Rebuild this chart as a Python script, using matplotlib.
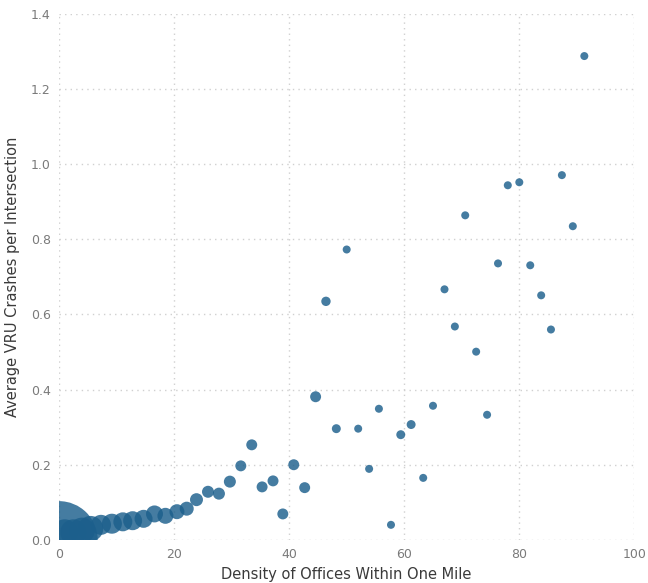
import matplotlib.pyplot as plt
import numpy as np

# density of offices (x), avg VRU crashes per intersection (y), intersections per bin (bubble size)
density = [0.0, 1.0, 2.5, 4.0, 5.5,
           7.3, 9.2, 11.1, 12.8, 14.7, 16.6, 18.5, 20.5, 22.2, 23.9,
           25.9, 27.8, 29.7, 31.6, 33.5, 35.3, 37.2, 38.9, 40.8, 42.7,
           44.6, 46.4, 48.2, 50.0, 52.0, 53.9, 55.6, 57.7, 59.4, 61.2,
           63.3, 65.0, 67.0, 68.8, 70.6, 72.5, 74.4, 76.3, 78.0, 80.0,
           81.9, 83.8, 85.5, 87.4, 89.3, 91.3]
crashes = [0.0, 0.02, 0.02, 0.025, 0.03,
           0.040, 0.043, 0.048, 0.051, 0.056, 0.069, 0.064, 0.075, 0.083, 0.107,
           0.128, 0.123, 0.155, 0.197, 0.253, 0.141, 0.157, 0.069, 0.200, 0.139,
           0.381, 0.635, 0.296, 0.773, 0.296, 0.189, 0.349, 0.040, 0.280, 0.307,
           0.165, 0.357, 0.667, 0.568, 0.864, 0.501, 0.333, 0.736, 0.944, 0.952,
           0.731, 0.651, 0.560, 0.971, 0.835, 1.288]
count = [1500, 170, 170, 165, 160,
         100, 100, 90, 90, 81, 72, 64, 56, 49, 42,
         36, 36, 36, 30, 30, 30, 30, 30, 30, 30,
         30, 22, 20, 16, 16, 16, 16, 16, 20, 20,
         16, 16, 16, 16, 16, 16, 16, 16, 16, 16,
         16, 16, 16, 16, 16, 16]

fig = plt.figure(figsize=(6.48, 5.83), dpi=100)
ax = fig.add_axes((0.091, 0.074, 0.888, 0.902))

sizes = np.array(count) * (2 * 0.72) ** 2
ax.scatter(density, crashes, s=sizes, color="#1c5f8c", alpha=0.82,
           edgecolors="none", zorder=3)

ax.set_xlim(0, 100)
ax.set_ylim(0, 1.4)
ax.set_xticks([0, 20, 40, 60, 80, 100])
ax.set_yticks(np.arange(0, 1.41, 0.2))
ax.yaxis.set_major_formatter(plt.FuncFormatter(lambda v, _: f"{v:.1f}"))
ax.grid(True, color="#d0d0d0", linestyle=(0, (1, 3)), linewidth=1)
for s in ax.spines.values():
    s.set_visible(False)
ax.tick_params(length=0, labelsize=9, labelcolor="#7a7a7a", pad=6)
ax.set_xlabel("Density of Offices Within One Mile", fontsize=10.5,
              color="#3a3a3a", labelpad=4)
ax.set_ylabel("Average VRU Crashes per Intersection", fontsize=10.5,
              color="#3a3a3a", labelpad=8)

plt.savefig("out.png", dpi=100)
plt.close()
